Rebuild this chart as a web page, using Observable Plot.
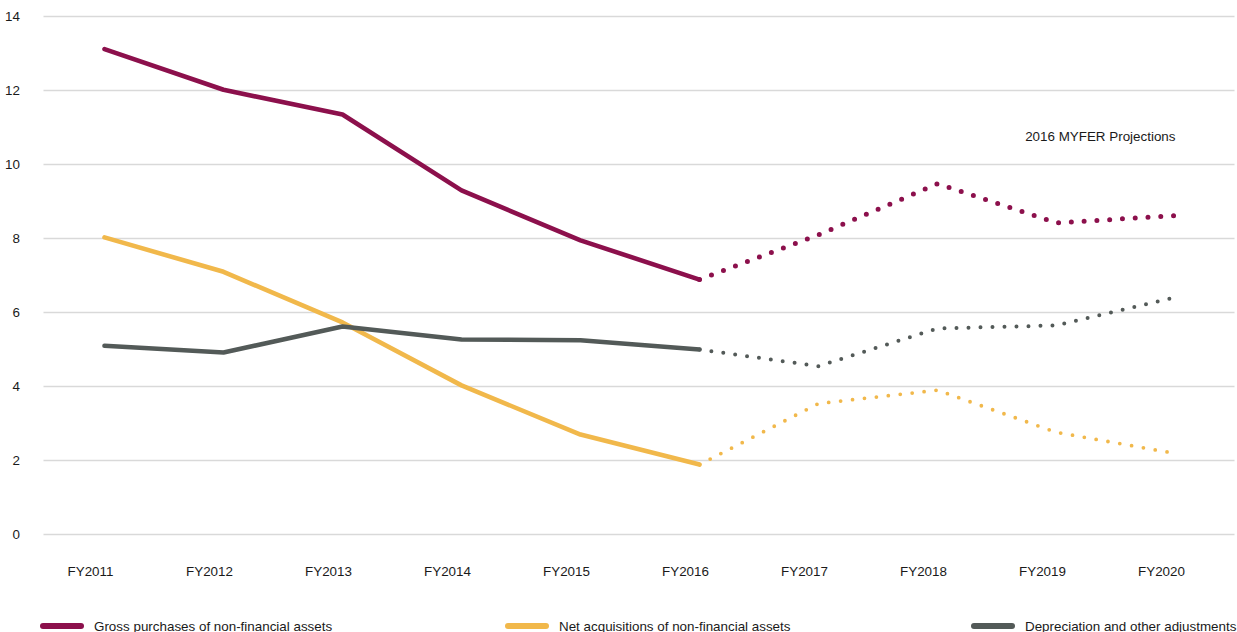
<!DOCTYPE html>
<html><head><meta charset="utf-8">
<script src="https://cdn.jsdelivr.net/npm/d3@7"></script>
<script src="https://cdn.jsdelivr.net/npm/@observablehq/plot@0.6"></script>
<style>
html,body{margin:0;padding:0;background:#fff;}
body{width:1237px;height:632px;overflow:hidden;font-family:"Liberation Sans",Arial,sans-serif;}
#legend{position:relative;height:22px;width:1237px;}
.item{position:absolute;top:0;display:flex;align-items:center;height:22px;font-size:13.4px;color:#1a1a1a;white-space:nowrap;}
.sw{width:44px;height:6px;border-radius:3px;margin-right:10px;}
</style></head><body>
<div id="chart"></div>
<div id="legend"></div>
<script>
const years = ["FY2011","FY2012","FY2013","FY2014","FY2015","FY2016","FY2017","FY2018","FY2019","FY2020"];
const gross = [13.12, 12.02, 11.35, 9.30, 7.95, 6.89, 8.10, 9.48, 8.42, 8.62];
const net   = [8.03, 7.10, 5.73, 4.03, 2.70, 1.89, 3.54, 3.90, 2.76, 2.19];
const dep   = [5.10, 4.92, 5.62, 5.27, 5.25, 5.00, 4.55, 5.57, 5.65, 6.41];
const lastActual = "FY2016";
const seriesNames = ["Gross purchases of non-financial assets","Net acquisitions of non-financial assets","Depreciation and other adjustments"];
const seriesColors = ["#8C104C","#F1B84B","#535A58"];
const yTicks = [0,2,4,6,8,10,12,14];
const annotations = [{year:"FY2020", value:10.76, text:"2016 MYFER Projections"}];

const seriesValues = [gross, net, dep];
const cut = years.indexOf(lastActual);
const rows = [];
seriesNames.forEach((name, s) => {
  years.forEach((year, i) => {
    rows.push({series: name, year, value: seriesValues[s][i], actual: i <= cut, proj: i >= cut});
  });
});
const actual = rows.filter(d => d.actual);
const proj = rows.filter(d => d.proj);
const dotStyle = [
  {w: 5, dash: "0 12.8"},
  {w: 3.8, dash: "0 12"},
  {w: 4, dash: "0 12"}
];

const chart = Plot.plot({
  width: 1237,
  height: 615,
  marginLeft: 43.5,
  marginRight: 2.5,
  marginTop: 16,
  marginBottom: 81,
  style: {fontFamily: "'Liberation Sans', Arial, sans-serif", fontSize: "13.4px", color: "#1a1a1a", background: "#fff"},
  x: {type: "point", domain: years, padding: 0.5, label: null},
  y: {domain: [0, 14], label: null},
  color: {domain: seriesNames, range: seriesColors},
  marks: [
    Plot.ruleY(yTicks, {stroke: "#d9d9d9", strokeWidth: 1.3}),
    Plot.axisY(yTicks, {tickSize: 0, tickPadding: 24, fontSize: 13.4, label: null}),
    Plot.axisX(years, {tickSize: 0, tickPadding: 32, dx: -14, fontSize: 13.4, label: null}),
    Plot.line(actual, {x: "year", y: "value", z: "series", stroke: "series", strokeWidth: 4.6, strokeLinecap: "round", strokeLinejoin: "round"}),
    ...seriesNames.map((name, s) => Plot.line(proj.filter(d => d.series === name), {
      x: "year", y: "value", stroke: seriesColors[s], strokeWidth: dotStyle[s].w,
      strokeDasharray: dotStyle[s].dash, strokeLinecap: "round", curve: "linear"
    })),
    Plot.text(annotations, {x: "year", y: "value", text: "text", textAnchor: "end", fontSize: 13.4, fill: "#1a1a1a"})
  ]
});
document.getElementById("chart").appendChild(chart);

const legendLeft = [40, 505, 971];
const legend = document.getElementById("legend");
seriesNames.forEach((name, s) => {
  const it = document.createElement("div");
  it.className = "item";
  it.style.left = legendLeft[s] + "px";
  const sw = document.createElement("div");
  sw.className = "sw";
  sw.style.background = seriesColors[s];
  const tx = document.createElement("span");
  tx.textContent = name;
  it.appendChild(sw); it.appendChild(tx);
  legend.appendChild(it);
});
</script>
</body></html>
